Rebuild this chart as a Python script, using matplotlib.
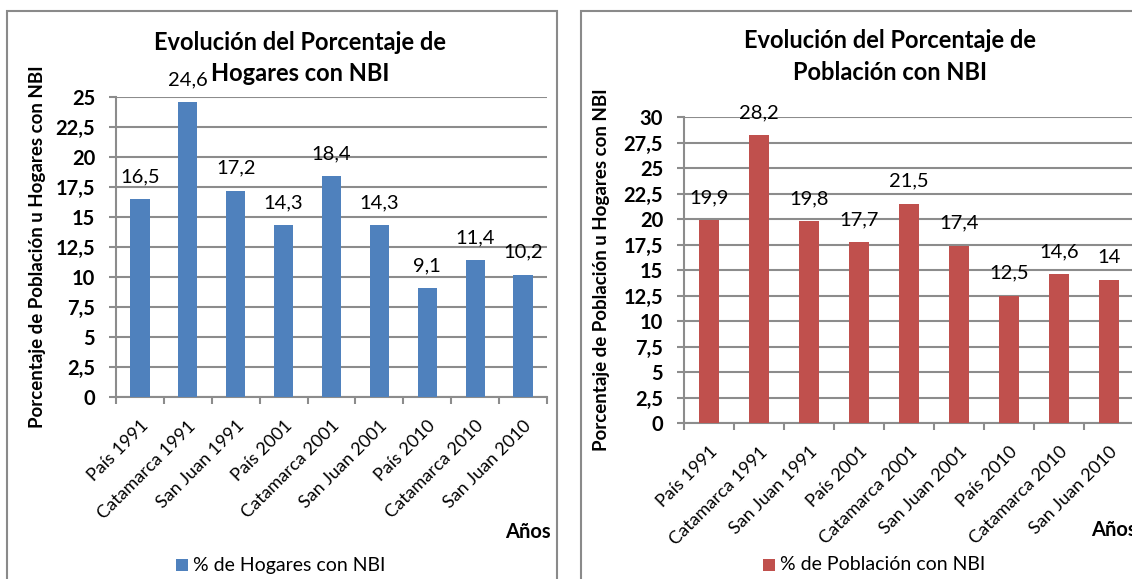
"""
NBI (necesidades basicas insatisfechas): hogares y poblacion, 1991-2010.
"""
import matplotlib
matplotlib.use("Agg")
import matplotlib.pyplot as plt
from matplotlib.patches import Rectangle
from matplotlib.ticker import MultipleLocator, FuncFormatter

categories = ["País 1991", "Catamarca 1991", "San Juan 1991",
              "País 2001", "Catamarca 2001", "San Juan 2001",
              "País 2010", "Catamarca 2010", "San Juan 2010"]
hogares = [16.5, 24.6, 17.2, 14.3, 18.4, 14.3, 9.1, 11.4, 10.2]
poblacion = [19.9, 28.2, 19.8, 17.7, 21.5, 17.4, 12.5, 14.6, 14.0]

W, H = 1132, 579
FONT = "Lato"
GRID = "#8c8c8c"
plt.rcParams["font.family"] = [FONT, "DejaVu Sans"]


def comma(v):
    return f"{v:g}".replace(".", ",")


def px_axes(fig, x0, y0, x1, y1):
    # pixel box (top-left origin) -> figure fraction
    return fig.add_axes([x0 / W, 1 - y1 / H, (x1 - x0) / W, (y1 - y0) / H])


def draw_panel(fig, box, values, ymax, color, title, legend, title_xy, ylab_x, anos_xy, leg_xy):
    ax = px_axes(fig, *box)
    x = range(len(values))
    ax.bar(x, values, width=0.4, color=color, zorder=3)
    for xi, v in zip(x, values):
        ax.annotate(comma(v), (xi, v), xytext=(0, 10), textcoords="offset points",
                    ha="center", va="bottom", fontsize=14.5, color="black", zorder=4,
                    annotation_clip=False)
    ax.set_xlim(-0.5, len(values) - 0.5)
    ax.set_ylim(0, ymax)
    ax.yaxis.set_major_locator(MultipleLocator(2.5))
    ax.yaxis.set_major_formatter(FuncFormatter(lambda v, p: comma(round(v, 1))))
    ax.set_xticks(list(x))
    ax.set_xticklabels(categories, rotation=45, ha="right", rotation_mode="anchor", fontsize=13)
    ax.set_xticks([i - 0.5 for i in range(len(values) + 1)], minor=True)
    ax.tick_params(axis="x", which="major", length=0, pad=15)
    ax.tick_params(axis="x", which="minor", length=5, width=1.5, color=GRID)
    ax.tick_params(axis="y", length=5, width=1.5, color=GRID, pad=10)
    for lab in ax.get_yticklabels():
        lab.set_fontweight("bold")
        lab.set_fontsize(14.5)
    ax.grid(axis="y", color=GRID, linewidth=1.5, zorder=0)
    ax.set_axisbelow(True)
    for s in ["top", "right"]:
        ax.spines[s].set_visible(False)
    for s in ["left", "bottom"]:
        ax.spines[s].set_color(GRID)
        ax.spines[s].set_linewidth(1.5)

    tx, ty1, ty2 = title_xy
    fig.text(tx / W, 1 - ty1 / H, title[0], ha="center", va="center", fontsize=17, fontweight="bold")
    fig.text(tx / W, 1 - ty2 / H, title[1], ha="center", va="center", fontsize=17, fontweight="bold")
    fig.text(ylab_x / W, 1 - (box[1] + box[3]) / 2 / H, "Porcentaje de Población u Hogares con NBI",
             rotation=90, ha="center", va="center", fontsize=13.5, fontweight="bold")
    fig.text(anos_xy[0] / W, 1 - anos_xy[1] / H, "Años", ha="left", va="center",
             fontsize=14.5, fontweight="bold")
    lx, ly = leg_xy
    fig.patches.append(Rectangle((lx / W, 1 - (ly + 6) / H), 12 / W, 12 / H,
                                 transform=fig.transFigure, facecolor=color, edgecolor="none"))
    fig.text((lx + 17) / W, 1 - ly / H, legend, ha="left", va="center", fontsize=14)
    return ax


fig = plt.figure(figsize=(W / 100, H / 100), dpi=100)

# marcos de cada grafico
fig.patches.append(Rectangle((7 / W, -0.05), 550 / W, 1.05 - 11 / H, transform=fig.transFigure,
                             fill=False, edgecolor="#8a8a8a", linewidth=1.5))
fig.patches.append(Rectangle((581 / W, -0.05), 600 / W, 1.05 - 11 / H, transform=fig.transFigure,
                             fill=False, edgecolor="#8a8a8a", linewidth=1.5))

draw_panel(fig, (116, 97, 547, 397), hogares, 25, "#4f81bd",
           ("Evolución del Porcentaje de", "Hogares con NBI"), "% de Hogares con NBI",
           (300, 43, 74), 37, (505, 532), (176, 565))
draw_panel(fig, (684, 117, 1134, 423), poblacion, 30, "#c0504d",
           ("Evolución del Porcentaje de", "Población con NBI"), "% de Población con NBI",
           (890, 40, 72), 601, (1091, 530), (763, 565))

fig.savefig("out.png", dpi=100)
